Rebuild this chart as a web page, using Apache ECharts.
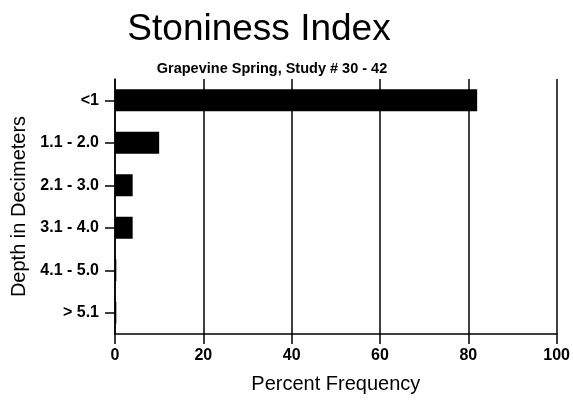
<!DOCTYPE html>
<html>
<head>
<meta charset="utf-8">
<script src="https://cdn.jsdelivr.net/npm/echarts@6/dist/echarts.min.js"></script>
<style>html,body{margin:0;padding:0;background:#fff;}#c{width:573px;height:400px;}</style>
</head>
<body>
<div id="c"></div>
<script>
const categories = ['<1', '1.1 - 2.0', '2.1 - 3.0', '3.1 - 4.0', '4.1 - 5.0', '> 5.1'];
const percentValues = [82, 10, 4, 4, 0.3, 0.3];
const xTicks = { min: 0, max: 100, interval: 20 };

const chart = echarts.init(document.getElementById('c'), null, { renderer: 'canvas' });
const FONT = '"Liberation Sans", Arial, sans-serif';
chart.setOption({
  animation: false,
  backgroundColor: '#fff',
  title: [
    { text: 'Stoniness Index', left: 259, textAlign: 'center', top: 11, padding: 0,
      textStyle: { fontFamily: FONT, fontSize: 37, fontWeight: 'normal', color: '#000' } },
    { text: 'Grapevine Spring, Study # 30 - 42', left: 272, textAlign: 'center', top: 61, padding: 0,
      textStyle: { fontFamily: FONT, fontSize: 14.5, fontWeight: 'bold', color: '#000' } }
  ],
  grid: { left: 115, right: 16, top: 79, bottom: 66, containLabel: false },
  xAxis: {
    type: 'value', min: xTicks.min, max: xTicks.max, interval: xTicks.interval,
    name: 'Percent Frequency', nameLocation: 'middle', nameGap: 40,
    nameTextStyle: { fontFamily: FONT, fontSize: 20, color: '#000' },
    axisLine: { show: true, lineStyle: { color: '#000', width: 1.5 } },
    axisTick: { show: true, length: 10, lineStyle: { color: '#000', width: 1.5 } },
    axisLabel: { margin: 14, fontFamily: FONT, fontSize: 16, fontWeight: 'bold', color: '#000' },
    splitLine: { show: true, lineStyle: { color: '#000', width: 1.5 } }
  },
  yAxis: {
    type: 'category', data: categories, inverse: true,
    name: 'Depth in Decimeters', nameLocation: 'middle', nameGap: 86,
    nameTextStyle: { fontFamily: FONT, fontSize: 20, color: '#000' },
    axisLine: { show: true, lineStyle: { color: '#000', width: 1.5 } },
    axisTick: { show: true, alignWithLabel: true, length: 10, lineStyle: { color: '#000', width: 1.5 } },
    axisLabel: { margin: 16, fontFamily: FONT, fontSize: 16, fontWeight: 'bold', color: '#000' },
    splitLine: { show: false }
  },
  series: [{
    type: 'bar', data: percentValues, barWidth: 22,
    itemStyle: { color: '#000' }
  }]
});
</script>
</body>
</html>
